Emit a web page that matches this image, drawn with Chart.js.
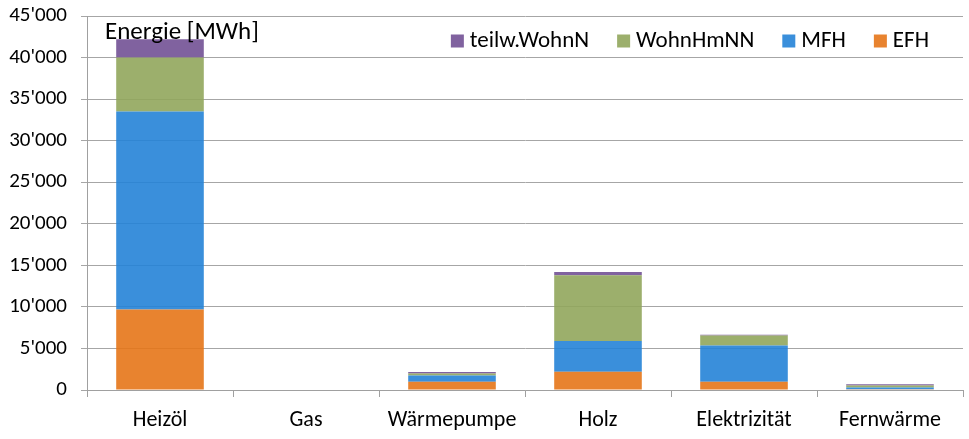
<!DOCTYPE html>
<html>
<head>
<meta charset="utf-8">
<script src="https://cdn.jsdelivr.net/npm/chart.js@4/dist/chart.umd.min.js"></script>
<style>
html,body{margin:0;padding:0;background:#fff;}
#wrap{width:969px;height:439px;position:relative;}
</style>
</head>
<body>
<div id="wrap"><canvas id="c" width="969" height="439"></canvas></div>
<script>
const categories = ['Heizöl', 'Gas', 'Wärmepumpe', 'Holz', 'Elektrizität', 'Fernwärme'];
const seriesNames = ['EFH', 'MFH', 'WohnHmNN', 'teilw.WohnN'];
const efh = [9700, 0, 1000, 2200, 1000, 100];
const mfh = [23800, 0, 750, 3700, 4350, 200];
const wohnHmNN = [6500, 0, 250, 7900, 1200, 250];
const teilwWohnN = [2200, 0, 170, 400, 100, 150];
const colors = ['rgba(229,117,24,0.9)', 'rgba(37,131,215,0.9)', 'rgba(145,166,92,0.9)', 'rgba(114,81,149,0.9)'];
const yTitle = 'Energie [MWh]';
const yMax = 45000, yStep = 5000;

const FONT = "Carlito, Lato, 'Liberation Sans', sans-serif";

function fmt(v){ return String(v).replace(/\B(?=(\d{3})+(?!\d))/g, "'"); }

const overlay = {
  id: 'overlay',
  afterDraw(chart){
    const ctx = chart.ctx, area = chart.chartArea;
    ctx.save();
    ctx.fillStyle = '#000';
    ctx.font = '25px ' + FONT;
    ctx.textBaseline = 'middle';
    ctx.textAlign = 'left';
    ctx.fillText(yTitle, area.left + 18, 33);
    // legend, reversed order, right aligned
    ctx.font = '23px ' + FONT;
    const ds = chart.data.datasets.slice().reverse();
    const box = 13, gap = 6, spacing = 28;
    let total = 0;
    const widths = ds.map(d => ctx.measureText(d.label).width);
    widths.forEach((w,i) => { total += box + gap + w + (i < widths.length-1 ? spacing : 0); });
    let x = area.right - 34 - total;
    const cy = 41;
    ds.forEach((d,i) => {
      ctx.fillStyle = d.backgroundColor;
      ctx.fillRect(x, cy - box/2, box, box);
      ctx.fillStyle = '#000';
      ctx.fillText(d.label, x + box + gap, cy);
      x += box + gap + widths[i] + spacing;
    });
    ctx.restore();
  }
};

const data = {
  labels: categories,
  datasets: [efh, mfh, wohnHmNN, teilwWohnN].map((arr, i) => ({
    label: seriesNames[i],
    data: arr,
    backgroundColor: colors[i],
    borderWidth: 0,
    barPercentage: 0.6,
    categoryPercentage: 1.0
  }))
};

new Chart(document.getElementById('c'), {
  type: 'bar',
  data,
  options: {
    responsive: false,
    animation: false,
    layout: { padding: { top: 16, right: 6, left: 0, bottom: 0 } },
    plugins: { legend: { display: false }, tooltip: { enabled: false } },
    scales: {
      x: {
        stacked: true,
        afterFit(s){ s.height = 49; s.paddingLeft = 0; s.paddingRight = 0; },
        grid: { drawOnChartArea: false, drawTicks: true, tickLength: 7, offset: true, color: '#a0a0a0' },
        border: { color: '#a0a0a0', width: 1 },
        ticks: { color: '#000', font: { family: FONT, size: 22 }, padding: 10, maxRotation: 0 }
      },
      y: {
        stacked: true,
        min: 0, max: yMax,
        afterFit(s){ s.width = 87; s.paddingTop = 0; s.paddingBottom = 0; },
        grid: { color: '#a6a6a6', tickLength: 6, drawTicks: true },
        border: { color: '#a0a0a0', width: 1 },
        ticks: { stepSize: yStep, color: '#000', font: { family: FONT, size: 21 }, padding: 14, callback: v => fmt(v) }
      }
    }
  },
  plugins: [overlay]
});
</script>
</body>
</html>
